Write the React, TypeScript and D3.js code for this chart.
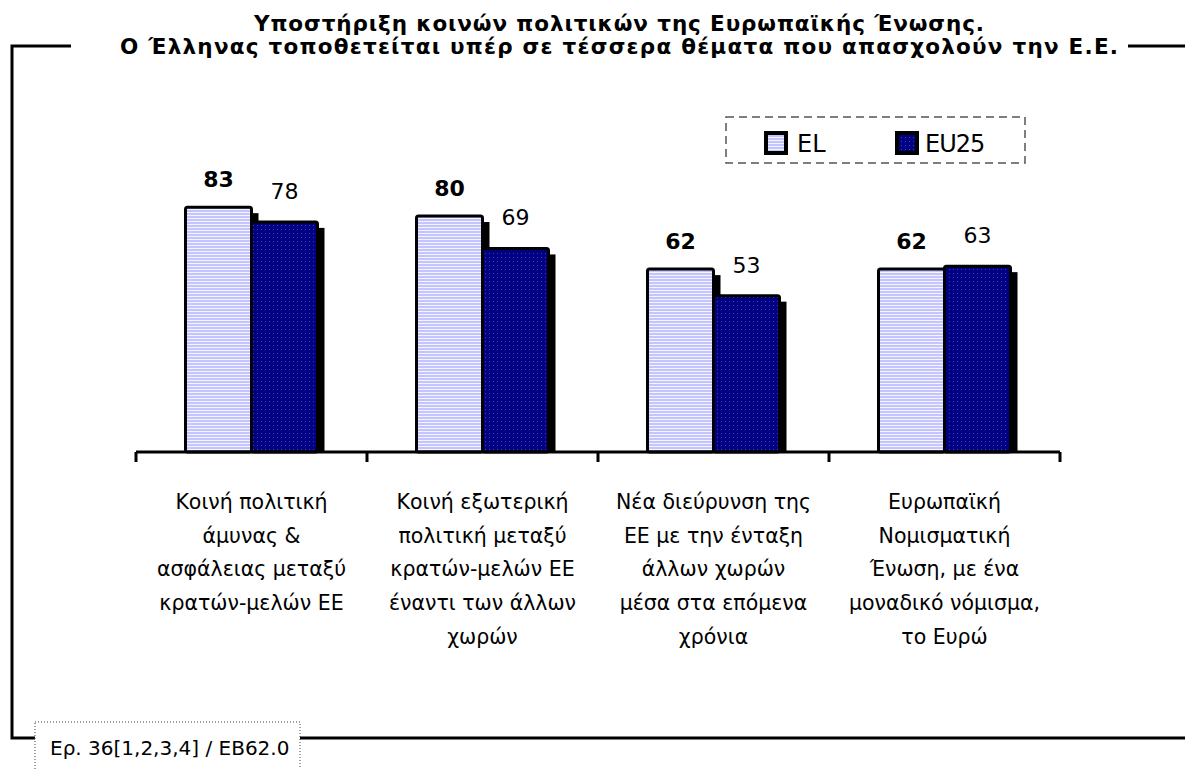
import * as d3 from "d3";

const titleLines = [
  "Υποστήριξη κοινών πολιτικών της Ευρωπαϊκής Ένωσης.",
  "Ο Έλληνας τοποθετείται υπέρ σε τέσσερα θέματα που απασχολούν την Ε.Ε.",
];

const categories = ["defence", "foreign", "enlargement", "euro"];

const categoryLabels = [
  ["Κοινή πολιτική", "άμυνας &", "ασφάλειας μεταξύ", "κρατών-μελών ΕΕ"],
  ["Κοινή εξωτερική", "πολιτική μεταξύ", "κρατών-μελών ΕΕ", "έναντι των άλλων", "χωρών"],
  ["Νέα διεύρυνση της", "ΕΕ με την ένταξη", "άλλων χωρών", "μέσα στα επόμενα", "χρόνια"],
  ["Ευρωπαϊκή", "Νομισματική", "Ένωση, με ένα", "μοναδικό νόμισμα,", "το Ευρώ"],
];

const seriesNames = ["EL", "EU25"];
const elValues = [83, 80, 62, 62];
const eu25Values = [78, 69, 53, 63];

const sourceNote = "Ερ. 36[1,2,3,4] / EB62.0";

const W = 1185;
const H = 769;
const FONT = "'DejaVu Sans', 'Noto Sans', sans-serif";

export default function App() {
  const x = d3.scaleBand<string>().domain(categories).range([136, 1060]).padding(0);
  const inner = d3
    .scaleBand<string>()
    .domain(seriesNames)
    .range([0, x.bandwidth()])
    .paddingInner(0)
    .paddingOuter(0.75);
  const y = d3.scaleLinear().domain([0, 100]).range([452, 157]);
  const baseY = y(0);

  const rows = categories.map((c, i) => ({
    cat: c,
    lines: categoryLabels[i],
    bars: [
      { key: "EL", value: elValues[i], fill: "url(#elFill)", bold: true, off: 20 },
      { key: "EU25", value: eu25Values[i], fill: "url(#euFill)", bold: false, off: 23 },
    ],
  }));

  const ticks = [...categories.map((c) => x(c) as number), 1060];

  return (
    <svg
      width={W}
      height={H}
      style={{ position: "absolute", left: 0, top: 0, background: "#fff" }}
      fontFamily={FONT}
    >
      <defs>
        <pattern id="elFill" width="4" height="3" patternUnits="userSpaceOnUse">
          <rect width="4" height="3" fill="#c4c4ff" />
          <rect y="2" width="4" height="1" fill="#f4f4ff" />
        </pattern>
        <pattern id="euFill" width="4" height="4" patternUnits="userSpaceOnUse">
          <rect width="4" height="4" fill="#000080" />
          <rect x="1" y="1" width="1" height="1" fill="#3c3cd4" />
        </pattern>
      </defs>

      {/* frame */}
      <g stroke="#000" strokeWidth={3} fill="none">
        <polyline points="71,46 12,46 12,738 35,738" />
        <line x1={300} y1={738} x2={1185} y2={738} />
        <line x1={1128} y1={46} x2={1185} y2={46} />
      </g>

      {/* title */}
      <g fontWeight="bold" fontSize={21.5} textAnchor="middle" fill="#000">
        <text x={619} y={31} textLength={730} lengthAdjust="spacing">{titleLines[0]}</text>
        <text x={619} y={54} textLength={998} lengthAdjust="spacing">{titleLines[1]}</text>
      </g>

      {/* legend */}
      <rect x={726} y={117} width={299} height={46} fill="#fff" stroke="#555" strokeWidth={1.5} strokeDasharray="8,5" />
      <rect x={766} y={133} width={20} height={20} fill="url(#elFill)" stroke="#000" strokeWidth={4} />
      <text x={797} y={152} fontSize={24}>EL</text>
      <rect x={897} y={133} width={20} height={20} fill="url(#euFill)" stroke="#000" strokeWidth={4} />
      <text x={925} y={152} fontSize={24} letterSpacing={-1}>EU25</text>

      {/* shadows */}
      {rows.map((r) =>
        r.bars.map((b) => {
          const bx = (x(r.cat) as number) + (inner(b.key) as number);
          return (
            <rect
              key={r.cat + b.key + "s"}
              x={bx + 7}
              y={y(b.value) + 6}
              width={inner.bandwidth()}
              height={baseY - y(b.value) - 6}
              fill="#000"
            />
          );
        })
      )}

      {/* bars */}
      {rows.map((r) =>
        r.bars.map((b) => {
          const bx = (x(r.cat) as number) + (inner(b.key) as number);
          return (
            <rect
              key={r.cat + b.key}
              x={bx}
              y={y(b.value)}
              width={inner.bandwidth()}
              height={baseY - y(b.value)}
              fill={b.fill}
              stroke="#000"
              strokeWidth={3}
              rx={2}
            />
          );
        })
      )}

      {/* value labels */}
      {rows.map((r) =>
        r.bars.map((b) => {
          const bx = (x(r.cat) as number) + (inner(b.key) as number) + inner.bandwidth() / 2;
          return (
            <text
              key={r.cat + b.key + "v"}
              x={bx}
              y={y(b.value) - b.off}
              textAnchor="middle"
              fontSize={22}
              fontWeight={b.bold ? "bold" : "normal"}
            >
              {b.value}
            </text>
          );
        })
      )}

      {/* axis */}
      <g stroke="#000" strokeWidth={3}>
        <line x1={136} y1={baseY} x2={1060} y2={baseY} />
        {ticks.map((t) => (
          <line key={t} x1={t} y1={baseY} x2={t} y2={baseY + 10} />
        ))}
      </g>

      {/* category labels */}
      {rows.map((r) => (
        <text
          key={r.cat + "l"}
          x={(x(r.cat) as number) + x.bandwidth() / 2}
          y={509}
          textAnchor="middle"
          fontSize={20.5}
        >
          {r.lines.map((ln, k) => (
            <tspan key={k} x={(x(r.cat) as number) + x.bandwidth() / 2} dy={k === 0 ? 0 : 33.7}>
              {ln}
            </tspan>
          ))}
        </text>
      ))}

      {/* source note */}
      <rect x={35} y={722} width={265} height={60} fill="#fff" stroke="#444" strokeWidth={1} strokeDasharray="1,2" />
      <text x={50} y={755} fontSize={20}>{sourceNote}</text>
    </svg>
  );
}
